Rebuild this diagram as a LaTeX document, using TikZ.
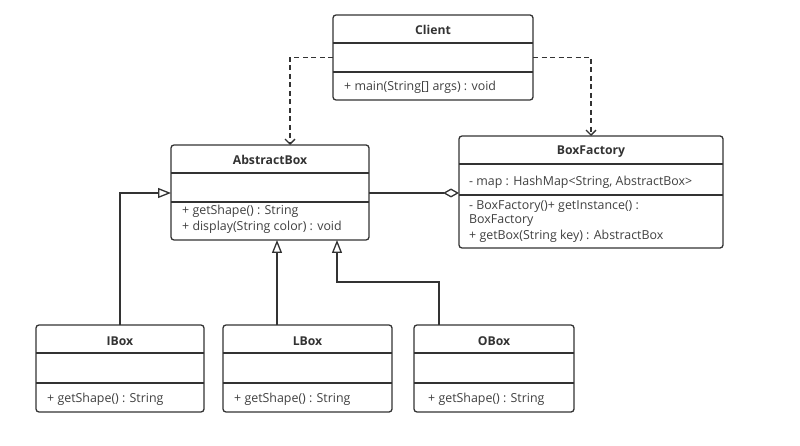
\documentclass[tikz,border=0pt]{standalone}
\usepackage{fontspec}
\setmainfont{Open Sans}
\usetikzlibrary{arrows.meta}
\definecolor{ink}{HTML}{333333}
\definecolor{txt}{HTML}{404040}
\tikzset{
  classbox/.style={draw=ink, line width=1.3pt, rounded corners=3pt, inner sep=0pt, outer sep=0pt, fill=white},
  comp/.style={inner sep=0pt, outer sep=0pt},
  sep/.style={draw=ink, line width=1.3pt},
  ctitle/.style={font=\fontsize{12.2}{14}\selectfont\bfseries, text=ink, inner sep=0pt},
  mtext/.style={font=\fontsize{12.4}{14}\selectfont, text=txt, inner sep=0pt, anchor=west},
  dep/.style={draw=ink, line width=1.3pt, dash pattern=on 5pt off 3.5pt, -{Straight Barb[length=5pt,width=10pt,line width=1.3pt]}},
  gen/.style={draw=ink, line width=1.3pt, -{Triangle[open, length=13pt, width=10pt, fill=white, line width=1.3pt]}},
  agg/.style={draw=ink, line width=1.3pt, {Diamond[open, length=16pt, width=9pt, fill=white, line width=1.3pt]}-},
}
% #1 name, #2 x1, #3 y0, #4 x2, #5 y3, #6 y1, #7 y2
\newcommand{\classbox}[7]{%
  \node[classbox, minimum width={(#4-#2)*1pt}, minimum height={(#5-#3)*1pt}] (#1) at ({(#2+#4)/2},{(#3+#5)/2}) {};
  \node[comp, minimum width={(#4-#2)*1pt}, minimum height={(#6-#3)*1pt}] (#1T) at ({(#2+#4)/2},{(#3+#6)/2}) {};
  \node[comp, minimum width={(#4-#2)*1pt}, minimum height={(#7-#6)*1pt}] (#1A) at ({(#2+#4)/2},{(#6+#7)/2}) {};
  \node[comp, minimum width={(#4-#2)*1pt}, minimum height={(#5-#7)*1pt}] (#1M) at ({(#2+#4)/2},{(#7+#5)/2}) {};
  \draw[sep] (#1A.north west) -- (#1A.north east);
  \draw[sep] (#1A.south west) -- (#1A.south east);
}
\begin{document}
\begin{tikzpicture}[x=1pt, y=-1pt]
\useasboundingbox (0,0) rectangle (800,446);

\classbox{client}{333}{15}{533}{100}{43}{72}
\node[ctitle] at (433,30) {Client};
\node[mtext] at (344,87) {+ main(String[] args) : void};

\classbox{abs}{171}{145}{369}{240}{173}{202}
\node[ctitle] at (270,160) {AbstractBox};
\node[mtext] at (182,211) {+ getShape() : String};
\node[mtext] at (182,227) {+ display(String color) : void};

\classbox{bf}{459}{136}{723}{248}{164}{195}
\node[ctitle] at (591,152) {BoxFactory};
\node[mtext] at (469,182) {- map : HashMap<String, AbstractBox>};
\node[mtext] at (469,207) {- BoxFactory()+ getInstance() :};
\node[mtext] at (469,221) {BoxFactory};
\node[mtext] at (469,236) {+ getBox(String key) : AbstractBox};

\classbox{ibox}{36}{325}{204}{412}{353}{383}
\node[ctitle] at (120,341) {IBox};
\node[mtext] at (47,399) {+ getShape() : String};

\classbox{lbox}{223}{325}{392}{412}{353}{383}
\node[ctitle] at (307.5,341) {LBox};
\node[mtext] at (234,399) {+ getShape() : String};

\classbox{obox}{414}{325}{574}{412}{353}{383}
\node[ctitle] at (494,341) {OBox};
\node[mtext] at (428,399) {+ getShape() : String};

\coordinate (aggpt) at (459,193);

% dependencies
\draw[dep] (clientA.west) -| ([xshift=20pt]abs.north);
\draw[dep] (clientA.east) -| (bf.north);
% aggregation
\draw[agg] (aggpt) -- (abs.east |- aggpt);
% generalizations
\draw[gen] (ibox.north) |- (abs.west |- aggpt);
\draw[gen] ([xshift=-30.5pt]lbox.north) -- ([xshift=-30.5pt]lbox.north |- abs.south);
\draw[gen] ([xshift=-55pt]obox.north) -- ++(0,-43) -| ([xshift=67pt]abs.south);
\end{tikzpicture}
\end{document}
